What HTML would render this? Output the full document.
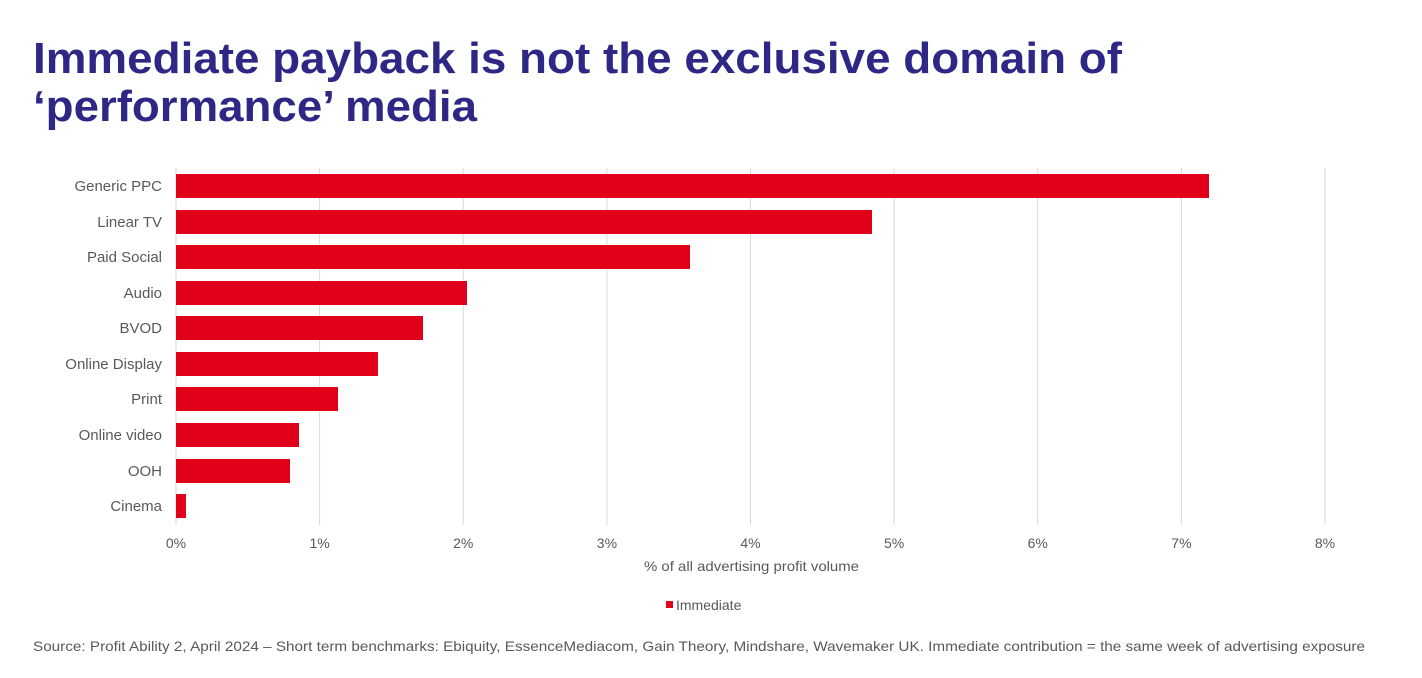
<!DOCTYPE html>
<html><head><meta charset="utf-8"><style>
html,body{margin:0;padding:0;background:#fff;width:1422px;height:678px;overflow:hidden}
</style></head><body>
<svg width="1422" height="678" xmlns="http://www.w3.org/2000/svg" font-family="Liberation Sans, sans-serif">
<text x="33" y="73" font-size="44" font-weight="bold" fill="#2e2785" textLength="1089" lengthAdjust="spacingAndGlyphs">Immediate payback is not the exclusive domain of</text>
<text x="33" y="121" font-size="44" font-weight="bold" fill="#2e2785" textLength="444" lengthAdjust="spacingAndGlyphs">‘performance’ media</text>
<g stroke="#d9d9d9" stroke-width="1">
<line x1="176" y1="168" x2="176" y2="525"/><line x1="319.6" y1="168" x2="319.6" y2="525"/>
<line x1="463.2" y1="168" x2="463.2" y2="525"/><line x1="606.9" y1="168" x2="606.9" y2="525"/>
<line x1="750.5" y1="168" x2="750.5" y2="525"/><line x1="894.1" y1="168" x2="894.1" y2="525"/>
<line x1="1037.7" y1="168" x2="1037.7" y2="525"/><line x1="1181.4" y1="168" x2="1181.4" y2="525"/>
<line x1="1325" y1="168" x2="1325" y2="525"/>
</g>
<g fill="#e0001a">
<rect x="176" y="174" width="1033" height="24"/>
<rect x="176" y="210" width="696" height="24"/>
<rect x="176" y="245" width="514" height="24"/>
<rect x="176" y="281" width="291" height="24"/>
<rect x="176" y="316" width="247" height="24"/>
<rect x="176" y="352" width="202" height="24"/>
<rect x="176" y="387" width="162" height="24"/>
<rect x="176" y="423" width="123" height="24"/>
<rect x="176" y="459" width="114" height="24"/>
<rect x="176" y="494" width="10" height="24"/>
</g>
<g font-size="15" fill="#595959" text-anchor="end">
<text x="162" y="191">Generic PPC</text><text x="162" y="227">Linear TV</text>
<text x="162" y="262">Paid Social</text><text x="162" y="298">Audio</text>
<text x="162" y="333">BVOD</text><text x="162" y="369">Online Display</text>
<text x="162" y="404">Print</text><text x="162" y="440">Online video</text>
<text x="162" y="476">OOH</text><text x="162" y="511">Cinema</text>
</g>
<g font-size="14" fill="#595959" text-anchor="middle">
<text x="176" y="548">0%</text><text x="319.6" y="548">1%</text><text x="463.2" y="548">2%</text>
<text x="606.9" y="548">3%</text><text x="750.5" y="548">4%</text><text x="894.1" y="548">5%</text>
<text x="1037.7" y="548">6%</text><text x="1181.4" y="548">7%</text><text x="1325" y="548">8%</text>
</g>
<text x="644" y="571" font-size="14" fill="#595959" textLength="215" lengthAdjust="spacingAndGlyphs">% of all advertising  profit volume</text>
<rect x="666" y="601" width="7" height="7" fill="#e0001a"/>
<text x="676" y="610" font-size="14" fill="#595959">Immediate</text>
<text x="33" y="651" font-size="14" fill="#595959" textLength="1332" lengthAdjust="spacingAndGlyphs">Source: Profit Ability 2, April 2024 – Short term benchmarks: Ebiquity, EssenceMediacom, Gain Theory,  Mindshare,  Wavemaker UK.  Immediate contribution = the same week of advertising  exposure</text>
</svg>
</body></html>
